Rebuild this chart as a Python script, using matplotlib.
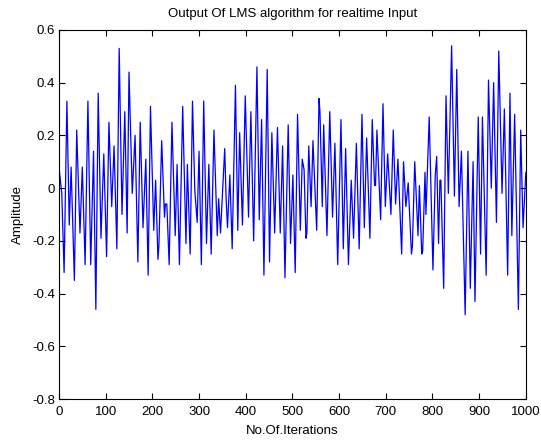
# LMS filter output vs iteration count, MATLAB-style plot
import numpy as np
import matplotlib
matplotlib.use("Agg")
import matplotlib.pyplot as plt

# --- 1. Values (turning points of the trace) ---
iterations = [
    0, 6, 11, 17, 22, 26, 33, 38, 45, 50, 56, 62, 68, 74, 79, 84, 90, 96, 102, 107,
    113, 118, 124, 129, 135, 141, 146, 150, 157, 163, 169, 174, 180, 186, 191, 196,
    203, 207, 212, 214, 220, 226, 228, 231, 236, 242, 249, 253, 258, 265, 272, 275,
    281, 286, 291, 296, 300, 305, 310, 316, 321, 326, 332, 339, 342, 346, 355, 358,
    361, 366, 371, 378, 383, 387, 393, 399, 406, 411, 417, 424, 429, 434, 439, 446,
    451, 456, 462, 468, 474, 479, 484, 491, 496, 501, 506, 511, 517, 521, 525, 529,
    531, 535, 540, 544, 552, 557, 559, 564, 567, 574, 580, 586, 591, 597, 604, 609,
    614, 620, 626, 631, 637, 643, 649, 654, 659, 666, 671, 676, 678, 681, 689, 694,
    699, 704, 711, 716, 721, 726, 734, 738, 743, 748, 755, 757, 762, 769, 772, 777,
    779, 784, 786, 793, 801, 806, 809, 813, 816, 818, 824, 829, 834, 841, 847, 852,
    857, 862, 870, 876, 881, 887, 891, 898, 903, 907, 915, 920, 926, 931, 937, 942,
    949, 954, 961, 966, 970, 976, 984, 989, 994, 1000,
]
amplitude = [
    0.08, -0.02, -0.32, 0.33, -0.14, 0.08, -0.35, 0.22, -0.17, 0.08, -0.29, 0.33,
    -0.29, 0.14, -0.46, 0.36, -0.19, 0.13, -0.26, 0.25, -0.07, 0.16, -0.23, 0.53,
    -0.10, 0.29, -0.17, 0.44, -0.02, 0.20, -0.28, 0.25, -0.15, 0.11, -0.33, 0.31,
    -0.16, 0.03, -0.27, -0.22, 0.18, -0.11, -0.06, -0.06, -0.29, 0.25, -0.18, 0.09,
    -0.29, 0.31, -0.21, 0.09, -0.25, 0.33, -0.01, -0.13, 0.14, -0.29, 0.33, -0.21,
    0.09, -0.25, 0.22, -0.18, -0.04, -0.17, 0.15, -0.04, -0.15, 0.05, -0.23, 0.39,
    -0.16, 0.21, -0.14, 0.35, -0.11, 0.29, -0.20, 0.46, -0.12, 0.26, -0.33, 0.45,
    -0.28, 0.21, -0.17, 0.23, -0.17, 0.16, -0.34, 0.24, -0.21, 0.05, -0.32, 0.28,
    -0.16, 0.11, 0.07, -0.19, -0.17, 0.16, -0.07, 0.18, -0.16, 0.34, 0.29, -0.07,
    0.24, -0.18, 0.29, -0.11, 0.17, -0.29, 0.26, -0.23, 0.15, -0.29, 0.03, -0.19,
    0.17, -0.23, 0.28, -0.15, 0.19, -0.19, 0.26, 0.01, 0.01, 0.22, -0.12, 0.32,
    -0.07, 0.13, -0.10, 0.22, -0.06, 0.11, -0.25, 0.10, -0.07, 0.02, -0.25, -0.22,
    0.10, -0.18, 0.01, -0.25, -0.24, 0.06, -0.10, 0.27, -0.31, 0.05, 0.12, -0.21,
    0.03, 0.03, -0.38, 0.35, -0.02, 0.54, -0.03, 0.45, -0.07, 0.14, -0.48, 0.14,
    -0.38, 0.10, -0.43, 0.27, -0.25, 0.27, -0.33, 0.41, 0.00, 0.40, -0.13, 0.52,
    -0.02, 0.30, -0.33, 0.36, -0.18, 0.28, -0.46, 0.22, -0.15, 0.06,
]
x_ticks = [0, 100, 200, 300, 400, 500, 600, 700, 800, 900, 1000]
y_ticks = [-0.8, -0.6, -0.4, -0.2, 0, 0.2, 0.4, 0.6]
y_labels = ["-0.8", "-0.6", "-0.4", "-0.2", "0", "0.2", "0.4", "0.6"]

# --- 2. Figure ---
plt.rcParams['font.family'] = ['Liberation Sans', 'DejaVu Sans']
plt.rcParams['axes.unicode_minus'] = False

fig = plt.figure(figsize=(5.41, 4.40), dpi=100)
ax = fig.add_axes([0.109, 0.093, 0.863, 0.839])

ax.plot(iterations, amplitude, color=(0, 0, 1), linewidth=0.9)

ax.set_xlim(0, 1000)
ax.set_ylim(-0.8, 0.6)
ax.set_xticks(x_ticks)
ax.set_yticks(y_ticks)
ax.set_yticklabels(y_labels)
ax.tick_params(direction='in', length=4, width=0.8, labelsize=9.5,
               top=True, right=True, pad=3)
ax.tick_params(axis='x', pad=5)
for s in ax.spines.values():
    s.set_linewidth(0.8)

ax.set_title("Output Of LMS algorithm for realtime Input", fontsize=9.5, pad=9)
ax.set_xlabel("No.Of.Iterations", fontsize=9.5, labelpad=5)
ax.set_ylabel("Amplitude", fontsize=9.5, labelpad=6)

fig.savefig("out.png", dpi=100)
